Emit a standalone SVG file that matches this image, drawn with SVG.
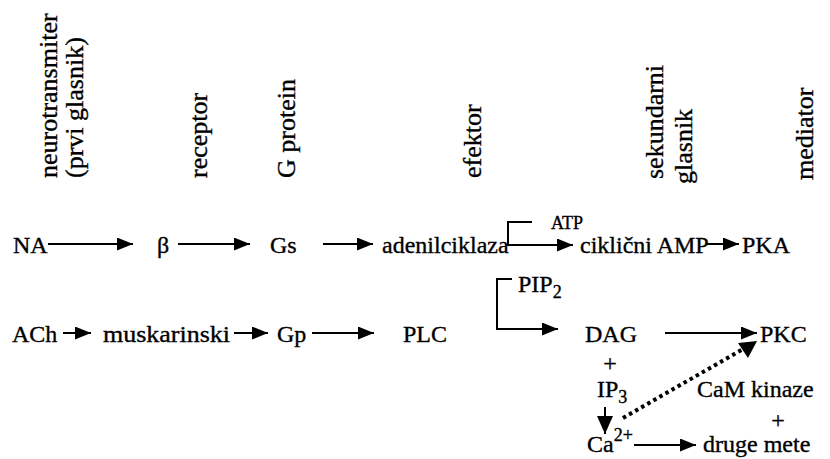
<svg xmlns="http://www.w3.org/2000/svg" width="830" height="459" viewBox="0 0 830 459">
<style>
text{font-family:"Liberation Serif","Times New Roman",serif;fill:#000;font-size:24px;stroke:#000;stroke-width:0.35}
.hdr{font-size:26px}
.sm{font-size:18px}
.ln{stroke:#000;stroke-width:2;fill:none}
.dot{stroke:#000;stroke-width:4;fill:none;stroke-dasharray:3.5 3.5}
</style>
<defs>
<marker id="ah" viewBox="0 0 16 13" markerWidth="16" markerHeight="13" markerUnits="userSpaceOnUse" refX="16" refY="6.5" orient="auto"><path d="M0,0 L16,6.5 L0,13 z" fill="#000"/></marker>
<marker id="ahL" viewBox="0 0 18 16" markerWidth="18" markerHeight="16" markerUnits="userSpaceOnUse" refX="18" refY="8" orient="auto"><path d="M0,0 L18,8 L0,16 z" fill="#000"/></marker>
</defs>
<rect width="830" height="459" fill="#fff"/>
<g id="headers">
<text class="hdr" transform="translate(57,178) rotate(-90)">neurotransmiter</text>
<text class="hdr" transform="translate(83,178) rotate(-90)">(prvi glasnik)</text>
<text class="hdr" transform="translate(207,178) rotate(-90)">receptor</text>
<text class="hdr" transform="translate(295,178) rotate(-90)">G protein</text>
<text class="hdr" transform="translate(481,178) rotate(-90)">efektor</text>
<text class="hdr" transform="translate(663,179) rotate(-90)">sekundarni</text>
<text class="hdr" transform="translate(692,184) rotate(-90)">glasnik</text>
<text class="hdr" transform="translate(813,180) rotate(-90)">mediator</text>
</g>
<g id="NA"><text x="13" y="253">NA</text></g>
<g id="beta"><text x="157" y="253">β</text></g>
<g id="Gs"><text x="270" y="253">Gs</text></g>
<g id="adenilciklaza"><text x="382" y="253">adenilciklaza</text></g>
<g id="ATP"><text class="sm" x="551" y="229">ATP</text></g>
<g id="cAMP"><text x="580" y="253">ciklični AMP</text></g>
<g id="PKA"><text x="742" y="253">PKA</text></g>
<g id="ACh"><text x="12" y="342">ACh</text></g>
<g id="muskarinski"><text x="103" y="342" textLength="127" lengthAdjust="spacingAndGlyphs">muskarinski</text></g>
<g id="Gp"><text x="277" y="342">Gp</text></g>
<g id="PLC"><text x="403" y="342">PLC</text></g>
<g id="PIP2"><text x="518" y="292">PIP<tspan class="sm" dy="6">2</tspan></text></g>
<g id="DAG"><text x="585" y="342">DAG</text></g>
<g id="plus1"><text x="610" y="371" text-anchor="middle">+</text></g>
<g id="IP3"><text x="597" y="397">IP<tspan class="sm" dy="6">3</tspan></text></g>
<g id="Ca"><text x="587" y="452">Ca<tspan class="sm" dy="-11">2+</tspan></text></g>
<g id="PKC"><text x="760" y="342">PKC</text></g>
<g id="CaMkinaze"><text x="697" y="397">CaM kinaze</text></g>
<g id="plus2"><text x="778" y="428" text-anchor="middle">+</text></g>
<g id="drugemete"><text x="703" y="452">druge mete</text></g>
<g id="connectors">
<line class="ln" x1="48" y1="244" x2="133" y2="244" marker-end="url(#ah)"/>
<line class="ln" x1="178" y1="244" x2="250" y2="244" marker-end="url(#ah)"/>
<line class="ln" x1="323" y1="244" x2="373" y2="244" marker-end="url(#ah)"/>
<path class="ln" d="M532,222 H508 V245 H573" marker-end="url(#ah)"/>
<line class="ln" x1="706" y1="244" x2="739" y2="244" marker-end="url(#ah)"/>
<line class="ln" x1="63" y1="333" x2="91" y2="333" marker-end="url(#ah)"/>
<line class="ln" x1="234" y1="333" x2="268" y2="333" marker-end="url(#ah)"/>
<line class="ln" x1="312" y1="333" x2="374" y2="333" marker-end="url(#ah)"/>
<path class="ln" d="M512,279 H497 V329 H558" marker-end="url(#ah)"/>
<line class="ln" x1="665" y1="333" x2="757" y2="333" marker-end="url(#ah)"/>
<line class="ln" x1="605" y1="407" x2="605" y2="434" marker-end="url(#ahL)"/>
<line class="ln" x1="634" y1="445" x2="696" y2="445" marker-end="url(#ah)"/>
<line class="dot" x1="623" y1="418" x2="743" y2="349"/>
<path d="M757,341 L738,343 L748,358 z" fill="#000"/>
</g>
</svg>
